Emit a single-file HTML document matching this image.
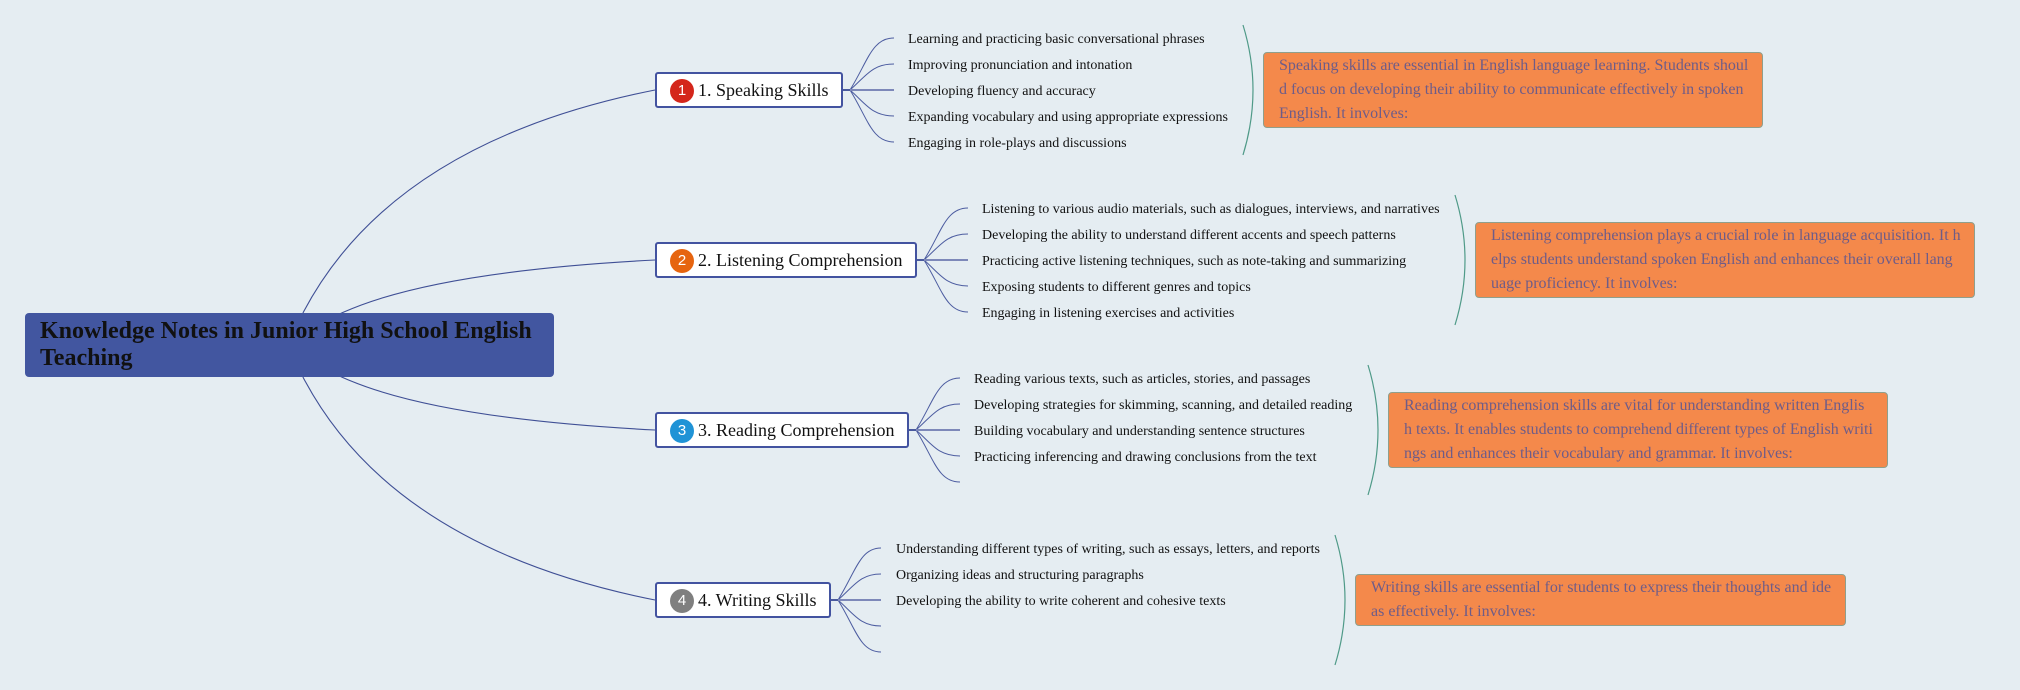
<!DOCTYPE html>
<html>
<head>
<meta charset="utf-8">
<style>
  html, body { margin:0; padding:0; }
  body { width:2020px; height:690px; background:#e5edf2; position:relative; overflow:hidden;
         font-family:"Liberation Serif", "DejaVu Serif", serif; }
  svg.lines { position:absolute; left:0; top:0; }
  .root { position:absolute; left:25px; top:313px; width:529px; height:64px; box-sizing:border-box;
          background:#4256a0; border-radius:4px; padding:5px 15px 0 15px;
          font-weight:bold; font-size:24px; line-height:27px; color:#111; }
  .main { position:absolute; left:655px; height:36px; box-sizing:border-box; background:#fff;
          border:2px solid #4353a0; border-radius:3px; font-size:18px; color:#111;
          white-space:nowrap; }
  .main .badge { position:absolute; left:13px; top:5px; width:24px; height:24px; border-radius:50%;
          color:#fff; font-family:"Liberation Sans", sans-serif; font-size:15px; line-height:24px;
          text-align:center; }
  .main .lbl { position:absolute; left:41px; top:0; line-height:32px; }
  .leaf { position:absolute; font-size:14px; line-height:20px; color:#111; white-space:nowrap; }
  .note { position:absolute; box-sizing:border-box; background:#f4894b; border:1px solid #8f9f8c;
          border-radius:4px; padding:1px 0 0 15px; font-size:16px; line-height:24px; color:#6e5c88;
          white-space:nowrap; }
</style>
</head>
<body>
<svg class="lines" width="2020" height="690" viewBox="0 0 2020 690">
  <g fill="none" stroke="#3f4f95" stroke-width="1.1">
    <path d="M300,320 L303.3,312.3 Q392.8,142.2 655,90"/>
    <path d="M335,316 L343.3,312.3 Q435,271.3 655,260"/>
    <path d="M335,374 L343.3,377.7 Q435,418.7 655,430"/>
    <path d="M300,370 L303.3,377.7 Q392.8,547.8 655,600"/>
  </g>
  <!-- speaking fan: R=843 c=90 -->
  <g fill="none" stroke="#4c5ca0" stroke-width="1">
    <path d="M850,90 C868,61 872,38 894,38"/>
    <path d="M850,90 C866,76 872,64 894,64"/>
    <path d="M850,90 C866,104 872,116 894,116"/>
    <path d="M850,90 C868,119 872,142 894,142"/>
  </g>
  <line x1="843" y1="90" x2="850" y2="90" stroke="#4a5a9e" stroke-width="2"/>
  <line x1="850" y1="90" x2="894" y2="90" stroke="#7d88b9" stroke-width="2"/>

  <!-- listening fan: R=917 c=260 -->
  <g fill="none" stroke="#4c5ca0" stroke-width="1">
    <path d="M924,260 C942,231 946,208 968,208"/>
    <path d="M924,260 C940,246 946,234 968,234"/>
    <path d="M924,260 C940,274 946,286 968,286"/>
    <path d="M924,260 C942,289 946,312 968,312"/>
  </g>
  <line x1="917" y1="260" x2="924" y2="260" stroke="#4a5a9e" stroke-width="2"/>
  <line x1="924" y1="260" x2="968" y2="260" stroke="#7d88b9" stroke-width="2"/>

  <!-- reading fan: R=909 c=430 -->
  <g fill="none" stroke="#4c5ca0" stroke-width="1">
    <path d="M916,430 C934,401 938,378 960,378"/>
    <path d="M916,430 C932,416 938,404 960,404"/>
    <path d="M916,430 C932,444 938,456 960,456"/>
    <path d="M916,430 C934,459 938,482 960,482"/>
  </g>
  <line x1="909" y1="430" x2="916" y2="430" stroke="#4a5a9e" stroke-width="2"/>
  <line x1="916" y1="430" x2="960" y2="430" stroke="#7d88b9" stroke-width="2"/>

  <!-- writing fan: R=831 c=600 -->
  <g fill="none" stroke="#4c5ca0" stroke-width="1">
    <path d="M838,600 C856,571 860,548 881,548"/>
    <path d="M838,600 C854,586 860,574 881,574"/>
    <path d="M838,600 C854,614 860,626 881,626"/>
    <path d="M838,600 C856,629 860,652 881,652"/>
  </g>
  <line x1="831" y1="600" x2="838" y2="600" stroke="#4a5a9e" stroke-width="2"/>
  <line x1="838" y1="600" x2="881" y2="600" stroke="#7d88b9" stroke-width="2"/>

  <!-- brackets -->
  <g fill="none" stroke="#4f9a88" stroke-width="1.2">
    <path d="M1243,25 Q1263,90 1243,155"/>
    <path d="M1455,195 Q1475,260 1455,325"/>
    <path d="M1368,365 Q1388,430 1368,495"/>
    <path d="M1335,535 Q1355,600 1335,665"/>
  </g>
</svg>

<div class="root">Knowledge Notes in Junior High School English<br>Teaching</div>

<div class="main" style="top:72px;width:188px;"><div class="badge" style="background:#d4261b;">1</div><div class="lbl">1. Speaking Skills</div></div>
<div class="main" style="top:242px;width:262px;"><div class="badge" style="background:#e6640f;">2</div><div class="lbl">2. Listening Comprehension</div></div>
<div class="main" style="top:412px;width:254px;"><div class="badge" style="background:#1f93d6;">3</div><div class="lbl">3. Reading Comprehension</div></div>
<div class="main" style="top:582px;width:176px;"><div class="badge" style="background:#7f7f7f;">4</div><div class="lbl">4. Writing Skills</div></div>

<!-- speaking leaves -->
<div class="leaf" style="left:908px;top:30px;">Learning and practicing basic conversational phrases</div>
<div class="leaf" style="left:908px;top:56px;">Improving pronunciation and intonation</div>
<div class="leaf" style="left:908px;top:82px;">Developing fluency and accuracy</div>
<div class="leaf" style="left:908px;top:108px;">Expanding vocabulary and using appropriate expressions</div>
<div class="leaf" style="left:908px;top:134px;">Engaging in role-plays and discussions</div>

<!-- listening leaves -->
<div class="leaf" style="left:982px;top:200px;">Listening to various audio materials, such as dialogues, interviews, and narratives</div>
<div class="leaf" style="left:982px;top:226px;">Developing the ability to understand different accents and speech patterns</div>
<div class="leaf" style="left:982px;top:252px;">Practicing active listening techniques, such as note-taking and summarizing</div>
<div class="leaf" style="left:982px;top:278px;">Exposing students to different genres and topics</div>
<div class="leaf" style="left:982px;top:304px;">Engaging in listening exercises and activities</div>

<!-- reading leaves -->
<div class="leaf" style="left:974px;top:370px;">Reading various texts, such as articles, stories, and passages</div>
<div class="leaf" style="left:974px;top:396px;">Developing strategies for skimming, scanning, and detailed reading</div>
<div class="leaf" style="left:974px;top:422px;">Building vocabulary and understanding sentence structures</div>
<div class="leaf" style="left:974px;top:448px;">Practicing inferencing and drawing conclusions from the text</div>

<!-- writing leaves -->
<div class="leaf" style="left:896px;top:540px;">Understanding different types of writing, such as essays, letters, and reports</div>
<div class="leaf" style="left:896px;top:566px;">Organizing ideas and structuring paragraphs</div>
<div class="leaf" style="left:896px;top:592px;">Developing the ability to write coherent and cohesive texts</div>

<!-- notes -->
<div class="note" style="left:1263px;top:52px;width:500px;height:76px;">Speaking skills are essential in English language learning. Students shoul<br>d focus on developing their ability to communicate effectively in spoken<br>English. It involves:</div>
<div class="note" style="left:1475px;top:222px;width:500px;height:76px;">Listening comprehension plays a crucial role in language acquisition. It h<br>elps students understand spoken English and enhances their overall lang<br>uage proficiency. It involves:</div>
<div class="note" style="left:1388px;top:392px;width:500px;height:76px;">Reading comprehension skills are vital for understanding written Englis<br>h texts. It enables students to comprehend different types of English writi<br>ngs and enhances their vocabulary and grammar. It involves:</div>
<div class="note" style="left:1355px;top:574px;width:491px;height:52px;">Writing skills are essential for students to express their thoughts and ide<br>as effectively. It involves:</div>
</body>
</html>
